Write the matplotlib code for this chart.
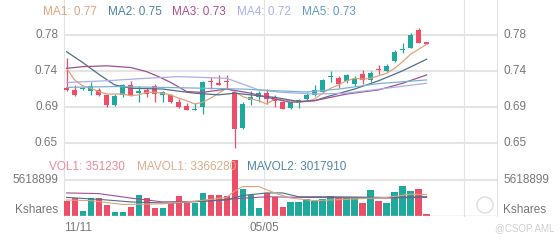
import numpy as np
import matplotlib.pyplot as plt
from matplotlib import transforms
from matplotlib.patches import Ellipse

plt.rcParams['font.family'] = ['Liberation Sans', 'DejaVu Sans']

# daily bars, oldest first
opens = [0.7177, 0.7153, 0.7160, 0.7136, 0.7145, 0.7084, 0.6971, 0.7090, 0.7205, 0.7118,
         0.7153, 0.7197, 0.7084, 0.7084, 0.7000, 0.6950, 0.6908, 0.6945, 0.7252, 0.7233,
         0.7250, 0.7125, 0.6690, 0.7023, 0.7063, 0.7112, 0.7063, 0.7000, 0.6930, 0.6990,
         0.7044, 0.7084, 0.7125, 0.7310, 0.7298, 0.7258, 0.7217, 0.7339, 0.7266, 0.7390,
         0.7379, 0.7500, 0.7636, 0.7650, 0.7873, 0.7727]
closes = [0.7145, 0.7084, 0.7165, 0.7193, 0.7084, 0.6963, 0.7076, 0.7205, 0.7092, 0.7128,
          0.7095, 0.7100, 0.7125, 0.7000, 0.6942, 0.6910, 0.6914, 0.7245, 0.7243, 0.7213,
          0.7243, 0.6680, 0.6983, 0.7063, 0.7108, 0.7044, 0.7015, 0.6922, 0.7000, 0.7023,
          0.7092, 0.7145, 0.7274, 0.7316, 0.7226, 0.7326, 0.7286, 0.7266, 0.7359, 0.7384,
          0.7436, 0.7609, 0.7642, 0.7812, 0.7711, 0.7703]
highs = [0.7530, 0.7205, 0.7180, 0.7245, 0.7170, 0.7100, 0.7105, 0.7226, 0.7254, 0.7193,
         0.7177, 0.7215, 0.7140, 0.7100, 0.7044, 0.6990, 0.6990, 0.7260, 0.7306, 0.7326,
         0.7326, 0.7130, 0.7000, 0.7136, 0.7140, 0.7165, 0.7090, 0.7015, 0.7015, 0.7040,
         0.7125, 0.7205, 0.7280, 0.7379, 0.7320, 0.7345, 0.7320, 0.7387, 0.7380, 0.7448,
         0.7460, 0.7630, 0.7710, 0.7840, 0.7893, 0.7727]
lows = [0.7140, 0.7080, 0.7150, 0.7084, 0.7080, 0.6940, 0.6950, 0.7063, 0.7080, 0.7000,
        0.7063, 0.7000, 0.7000, 0.6990, 0.6935, 0.6905, 0.6905, 0.6862, 0.7165, 0.7205,
        0.7165, 0.6450, 0.6680, 0.6963, 0.7000, 0.6983, 0.6942, 0.6915, 0.6920, 0.6930,
        0.7020, 0.7075, 0.7110, 0.7245, 0.7177, 0.7230, 0.7200, 0.7226, 0.7250, 0.7339,
        0.7370, 0.7490, 0.7590, 0.7650, 0.7711, 0.7703]
volumes = [2340000, 2760000, 780000, 2760000, 2760000, 1720000, 680000, 680000, 1460000, 3280000,
           2860000, 1200000, 1200000, 2080000, 3120000, 1980000, 2080000, 3640000, 3280000, 3280000,
           3120000, 8740000, 4210000, 3280000, 1200000, 3640000, 2900000, 1460000, 2240000, 2240000,
           2650000, 2340000, 2650000, 3120000, 2760000, 2760000, 2760000, 2080000, 4060000, 2390000,
           2080000, 3800000, 4680000, 3900000, 4210000, 351230]

# moving averages (bar index, value)
ma1 = [0.741, 0.727, 0.720, 0.717, 0.713, 0.710, 0.710, 0.710, 0.708, 0.709,
       0.712, 0.712, 0.711, 0.709, 0.705, 0.702, 0.698, 0.700, 0.705, 0.711,
       0.717, 0.713, 0.707, 0.704, 0.702, 0.698, 0.704, 0.703, 0.702, 0.700,
       0.701, 0.704, 0.711, 0.717, 0.721, 0.726, 0.729, 0.728, 0.729, 0.732,
       0.735, 0.741, 0.749, 0.758, 0.764, 0.770]
ma2_idx = [0, 2, 4, 6, 8, 12, 16, 19, 21, 23, 26, 29, 31, 33, 36, 39, 42, 45]
ma2_val = [0.761, 0.748, 0.734, 0.721, 0.717, 0.716, 0.711, 0.709, 0.711, 0.709,
           0.706, 0.701, 0.702, 0.708, 0.716, 0.726, 0.738, 0.752]
ma3_idx = [0, 2, 5, 8, 10, 11.5, 13, 15, 17, 20, 23, 25, 28, 31, 35, 39, 42, 45]
ma3_val = [0.741, 0.743, 0.744, 0.742, 0.737, 0.731, 0.724, 0.713, 0.712, 0.716,
           0.711, 0.706, 0.700, 0.702, 0.710, 0.715, 0.723, 0.733]
ma4_idx = [0, 5, 10, 14, 20, 22, 24, 27, 31, 35, 40, 45]
ma4_val = [0.724, 0.726, 0.729, 0.731, 0.729, 0.722, 0.715, 0.712, 0.710, 0.711, 0.717, 0.723]
ma5_idx = [0, 6, 12, 17, 22, 26, 30, 34, 39, 45]
ma5_val = [0.718, 0.719, 0.718, 0.717, 0.716, 0.714, 0.7125, 0.716, 0.7226, 0.727]

mavol1_idx = [0, 3, 7, 12, 16, 20, 21, 22, 24, 26, 28, 31, 35, 40, 43, 45]
mavol1_val = [2.5e6, 2.4e6, 1.8e6, 1.9e6, 2.3e6, 2.9e6, 3.9e6, 4.6e6, 4.6e6, 3.6e6,
              2.8e6, 2.4e6, 2.6e6, 2.9e6, 3.4e6, 3366280]
mavol2_idx = [0, 4, 8, 13, 17, 20, 22, 25, 27, 29, 33, 40, 45]
mavol2_val = [2.9e6, 2.6e6, 2.2e6, 2.0e6, 2.3e6, 2.5e6, 3.2e6, 3.6e6, 3.6e6, 3.0e6,
              3.0e6, 2.9e6, 3017910]
mavol3_idx = [0, 4, 8, 12, 17, 21, 25, 30, 40, 45]
mavol3_val = [3.6e6, 3.5e6, 2.8e6, 2.2e6, 2.3e6, 2.7e6, 3.0e6, 2.9e6, 2.8e6, 2.9e6]

date_labels = ['11/11', '05/05']
price_ticks = [0.6513, 0.6946, 0.7379, 0.7812]
price_labels = ['0.65', '0.69', '0.74', '0.78']
vol_tick = 5618899

UP, DOWN = '#1fa99c', '#ee4d68'
GRID = '#e4e4e4'
LABEL = '#777777'
W, H = 560, 240

fig = plt.figure(figsize=(W / 100, H / 100), dpi=100)


def box(l, t, r, b):
    return [l / W, 1 - b / H, (r - l) / W, (b - t) / H]


ax = fig.add_axes(box(64, 0, 497, 150))
vax = fig.add_axes(box(64, 150, 497, 216))
x0, x1 = -0.33, 53.8
vlines_at = [x0, x0 + 25, x0 + 50, x1]
for a in (ax, vax):
    a.set_xlim(x0, x1)
    a.axis('off')
    for xv in vlines_at:
        a.axvline(xv, color='#e2e2e2', lw=0.8, zorder=0, clip_on=False)
ax.set_ylim(0.64248, 0.82342)
vax.set_ylim(0, 66 * 156080)

for t in price_ticks:
    ax.axhline(t, color=GRID, lw=1.5, zorder=0)
vax.axhline(vol_tick, color=GRID, lw=1.5, zorder=0)
vax.axhline(0, color='#cfcfcf', lw=1.0, zorder=5)

# candles
o = np.array(opens)
c = np.array(closes)
idx = np.arange(len(c))
colors = [UP if cc >= oo else DOWN for oo, cc in zip(o, c)]
ax.vlines(idx, lows, highs, colors=colors, lw=0.9, zorder=2)
body = np.maximum(np.abs(c - o), 0.0013)
ax.bar(idx, body, bottom=np.minimum(o, c), width=0.7, color=colors, zorder=3)

ma_colors = ['#dca47c', '#4e6e8b', '#a24f90', '#aaaee8', '#78b4d2']
ax.plot(idx, ma1, color=ma_colors[0], lw=0.9, zorder=4)
ax.plot(ma2_idx, ma2_val, color=ma_colors[1], lw=0.9, zorder=4)
ax.plot(ma3_idx, ma3_val, color=ma_colors[2], lw=0.9, zorder=4)
ax.plot(ma4_idx, ma4_val, color=ma_colors[3], lw=0.9, zorder=4)
ax.plot(ma5_idx, ma5_val, color=ma_colors[4], lw=0.9, zorder=4)

# volume
vax.bar(idx, volumes, width=0.78, color=colors, zorder=2)
vax.plot(mavol3_idx, mavol3_val, color='#a24f90', lw=0.8, zorder=3)
vax.plot(mavol2_idx, mavol2_val, color='#4e6e8b', lw=0.8, zorder=3)
vax.plot(mavol1_idx, mavol1_val, color='#dca47c', lw=0.8, zorder=3)

# axis labels on both sides
lab = dict(fontsize=8.5, color=LABEL)
tp = transforms.blended_transform_factory(fig.transFigure, ax.transData)
for t, s in zip(price_ticks, price_labels):
    fig.text(58 / W, t, s, transform=tp, ha='right', va='center', **lab)
    fig.text(503 / W, t, s, transform=tp, ha='left', va='center', **lab)
tv = transforms.blended_transform_factory(fig.transFigure, vax.transData)
fig.text(58 / W, vol_tick, str(vol_tick), transform=tv, ha='right', va='center', **lab)
fig.text(503 / W, vol_tick, str(vol_tick), transform=tv, ha='left', va='center', **lab)
fig.text(58 / W, 1 - 210 / H, 'Kshares', ha='right', va='center', **lab)
fig.text(503 / W, 1 - 210 / H, 'Kshares', ha='left', va='center', **lab)

td = transforms.blended_transform_factory(vax.transData, fig.transFigure)
fig.text(x0, 1 - 228 / H, date_labels[0], transform=td, ha='left', va='center', **lab)
fig.text(x0 + 25, 1 - 228 / H, date_labels[1], transform=td, ha='center', va='center', **lab)

# legends
ma_names = ['MA1', 'MA2', 'MA3', 'MA4', 'MA5']
ma_last = ['0.77', '0.75', '0.73', '0.72', '0.73']
legend_colors = ['#dca47c', '#4a82a6', '#ad4f8c', '#aab0ef', '#5f9ac9']
for px, name, val, col in zip([43, 108, 172, 237, 302], ma_names, ma_last, legend_colors):
    fig.text(px / W, 1 - 12 / H, f'{name}: {val}', color=col, fontsize=8.5, va='center')

vol_legend = [('VOL1: 351230', '#f0899a', 49), ('MAVOL1: 3366280', '#dcab8c', 137),
              ('MAVOL2: 3017910', '#4f86a8', 247)]
for s, col, px in vol_legend:
    fig.text(px / W, 1 - 167 / H, s, color=col, fontsize=8.5, va='center')

# watermark
fig.add_artist(Ellipse((485 / W, 1 - 205 / H), 16 / W, 16 / H, transform=fig.transFigure,
                       fill=False, ec='#dddddd', lw=1.0))
fig.text(495 / W, 1 - 228 / H, '@CSOP AML', color='#cfcfcf', fontsize=7, va='center')

fig.savefig('out.png', dpi=100)
